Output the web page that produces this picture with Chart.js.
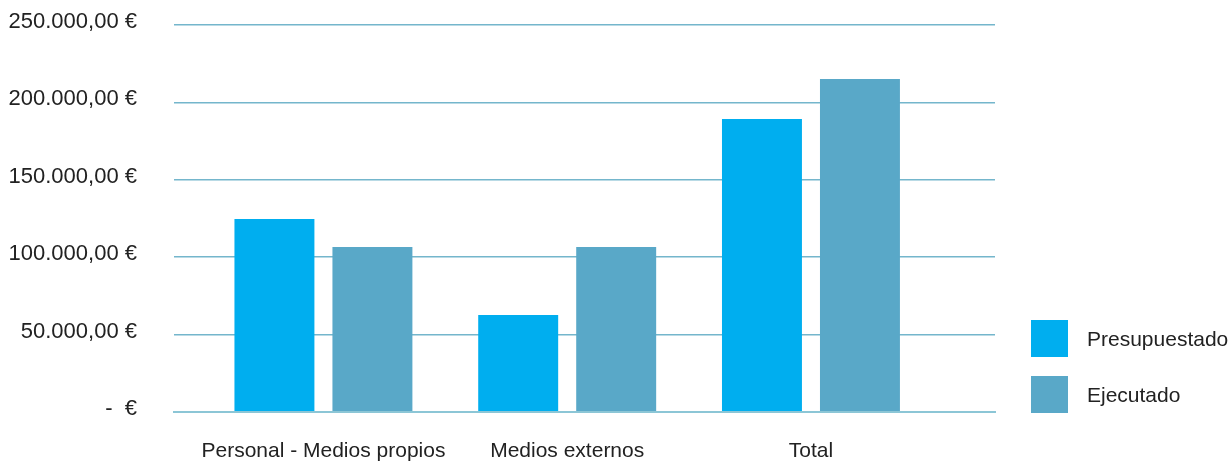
<!DOCTYPE html>
<html>
<head>
<meta charset="utf-8">
<script src="https://cdn.jsdelivr.net/npm/chart.js@4"></script>
<style>
  body { margin: 0; background: #fff; }
  #wrap { position: relative; width: 1231px; height: 461px; }
  #legend { position: absolute; left: 1031px; top: 320px; font: 21px Helvetica, Arial, "Liberation Sans", sans-serif; color: #222; }
  .item { display: flex; align-items: center; height: 37px; margin-bottom: 19px; }
  .box { width: 37px; height: 37px; margin-right: 19px; }
</style>
</head>
<body>
<div id="wrap">
  <canvas id="canvas" width="1231" height="461"></canvas>
  <div id="legend"></div>
</div>
<script>
// datos ----------------------------------------------------------
var categories = ['Personal - Medios propios', 'Medios externos', 'Total'];
var presupuestado = [124700, 62700, 189300];
var ejecutado = [106600, 106600, 215100];
var seriesNames = ['Presupuestado', 'Ejecutado'];
var seriesColors = ['#00AEEF', '#59A8C8'];
var yTicks = [0, 50000, 100000, 150000, 200000, 250000];

// formato contable "250.000,00 €"
function euros(v) {
  if (v === 0) return '-  €';
  var s = String(Math.round(v)).replace(/\B(?=(\d{3})+(?!\d))/g, '.');
  return s + ',00 €';
}

function points(values) {
  return values.map(function (v, i) { return { x: i, y: v }; });
}

var family = 'Helvetica, Arial, "Liberation Sans", sans-serif';

var ctx = document.getElementById('canvas').getContext('2d');
var myChart = new Chart(ctx, {
  type: 'bar',
  data: {
    datasets: [{
      label: seriesNames[0],
      data: points(presupuestado),
      backgroundColor: seriesColors[0]
    }, {
      label: seriesNames[1],
      data: points(ejecutado),
      backgroundColor: seriesColors[1]
    }]
  },
  options: {
    responsive: false,
    animation: false,
    layout: { padding: { top: 25, right: 236, left: 0, bottom: 0 } },
    categoryPercentage: 0.804,
    barPercentage: 0.816,
    plugins: { legend: { display: false }, tooltip: { enabled: false } },
    scales: {
      x: {
        type: 'linear',
        offset: false,
        min: -0.613,
        max: 2.755,
        afterFit: function (scale) { scale.height = 49; },
        afterBuildTicks: function (scale) {
          scale.ticks = categories.map(function (c, i) { return { value: i }; });
        },
        grid: { display: false, drawTicks: false },
        border: { display: true, color: '#8CC6D6', width: 2 },
        ticks: {
          autoSkip: false,
          maxRotation: 0,
          padding: 27,
          color: '#222',
          font: { family: family, size: 21 },
          callback: function (v) { return categories[v]; }
        }
      },
      y: {
        min: yTicks[0],
        max: yTicks[yTicks.length - 1],
        afterFit: function (scale) {
          scale.width = 174;
          scale.paddingTop = 0;
          scale.paddingBottom = 0;
        },
        afterBuildTicks: function (scale) {
          scale.ticks = yTicks.map(function (v) { return { value: v }; });
        },
        grid: {
          drawTicks: false,
          color: function (c) { return c.tick && c.tick.value === 0 ? '#8CC6D6' : '#74B6CC'; },
          lineWidth: function (c) { return c.tick && c.tick.value === 0 ? 2 : 1.5; }
        },
        border: { display: false },
        ticks: {
          padding: 37,
          labelOffset: -3,
          color: '#222',
          font: { family: family, size: 22 },
          callback: function (v) { return euros(v); }
        }
      }
    }
  }
});

// leyenda html ------------------------------------------------------
var legend = document.getElementById('legend');
seriesNames.forEach(function (name, i) {
  var item = document.createElement('div');
  item.className = 'item';
  var box = document.createElement('div');
  box.className = 'box';
  box.style.background = seriesColors[i];
  var txt = document.createElement('span');
  txt.textContent = name;
  item.appendChild(box);
  item.appendChild(txt);
  legend.appendChild(item);
});
</script>
</body>
</html>
